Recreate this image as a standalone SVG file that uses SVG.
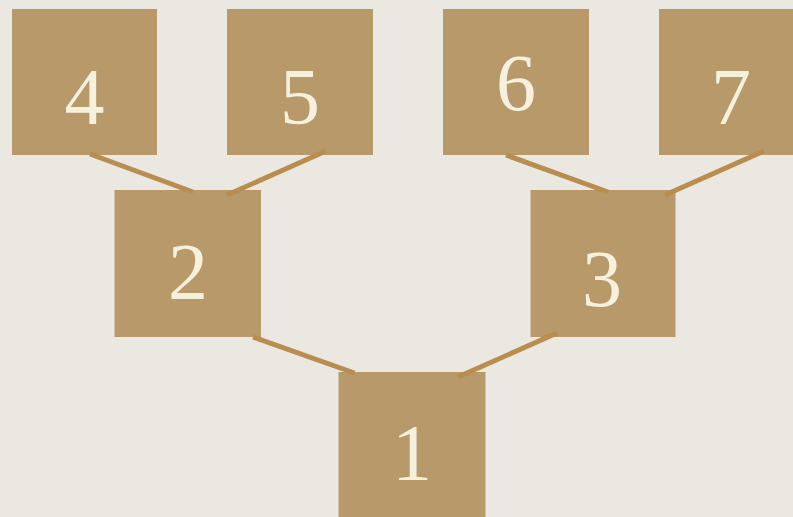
<svg xmlns="http://www.w3.org/2000/svg" width="793" height="517" viewBox="0 0 793 517">
<style>
.box{fill:#b8996a}
.lbl{font-family:"Liberation Serif","DejaVu Serif",serif;font-size:80px;fill:#f6f1de;text-anchor:middle}
.edge{stroke:#b88d4e;stroke-width:5;fill:none}
</style>
<rect width="793" height="517" fill="#eae8e1"/>
<g id="node-4"><rect class="box" x="12" y="9" width="145" height="146"/><text class="lbl" x="84.5" y="124">4</text></g>
<g id="node-5"><rect class="box" x="227" y="9" width="146" height="146"/><text class="lbl" x="300" y="124">5</text></g>
<g id="node-6"><rect class="box" x="443" y="9" width="146" height="146"/><text class="lbl" x="516" y="110">6</text></g>
<g id="node-7"><rect class="box" x="659" y="9" width="146" height="146"/><text class="lbl" x="731" y="124">7</text></g>
<g id="node-2"><rect class="box" x="114.5" y="190" width="146.5" height="147"/><text class="lbl" x="188" y="299">2</text></g>
<g id="node-3"><rect class="box" x="530.5" y="190" width="145" height="147"/><text class="lbl" x="602" y="306">3</text></g>
<g id="node-1"><rect class="box" x="338.5" y="372" width="147" height="150"/><text class="lbl" x="412" y="480">1</text></g>
<g id="connectors">
<line class="edge" x1="90" y1="154" x2="193" y2="192"/>
<line class="edge" x1="326" y1="151" x2="227" y2="195"/>
<line class="edge" x1="506" y1="155" x2="608" y2="192"/>
<line class="edge" x1="764" y1="151" x2="665" y2="195"/>
<line class="edge" x1="253" y1="337" x2="354.5" y2="373"/>
<line class="edge" x1="557" y1="333" x2="458" y2="377"/>
</g>
</svg>
